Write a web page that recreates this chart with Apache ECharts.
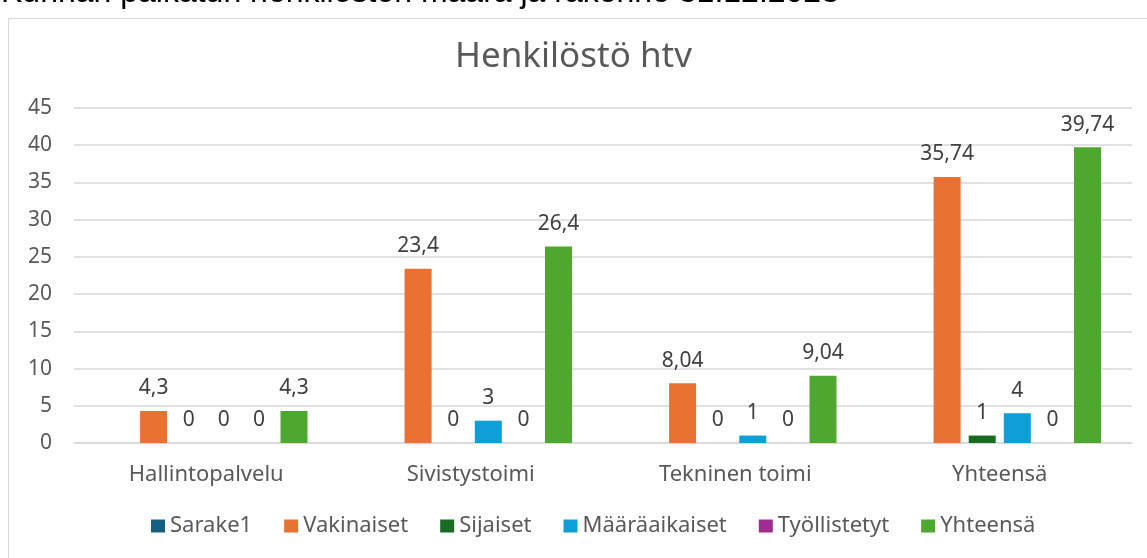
<!DOCTYPE html>
<html>
<head>
<meta charset="utf-8">
<script src="https://cdn.jsdelivr.net/npm/echarts@6/dist/echarts.min.js"></script>
<style>
  html, body { margin: 0; padding: 0; background: #fff; }
  #chart { width: 1147px; height: 558px; }
</style>
</head>
<body>
<div id="chart"></div>
<script>
const categories = ['Hallintopalvelu', 'Sivistystoimi', 'Tekninen toimi', 'Yhteensä'];
const seriesNames = ['Sarake1', 'Vakinaiset', 'Sijaiset', 'Määräaikaiset', 'Työllistetyt', 'Yhteensä'];
const seriesColors = ['#156082', '#E97132', '#196B24', '#0F9ED5', '#A02B93', '#4EA72E'];
const sarake1 = [null, null, null, null];
const vakinaiset = [4.3, 23.4, 8.04, 35.74];
const sijaiset = [0, 0, 0, 1];
const maaraaikaiset = [0, 3, 1, 4];
const tyollistetyt = [0, 0, 0, 0];
const yhteensa = [4.3, 26.4, 9.04, 39.74];
const yTicks = { min: 0, max: 45, interval: 5 };

const seriesData = [sarake1, vakinaiset, sijaiset, maaraaikaiset, tyollistetyt, yhteensa];

const chart = echarts.init(document.getElementById('chart'));

const option = {
    backgroundColor: '#fff',
    animation: false,
    textStyle: { fontFamily: 'Noto Sans' },
    title: {
        text: 'Henkilöstö htv',
        left: 'center',
        top: 35,
        textStyle: { fontSize: 35, fontWeight: 'normal', color: '#595959', fontFamily: 'Noto Sans' }
    },
    graphic: [
        {
            type: 'rect',
            shape: { x: 8.5, y: 18.5, width: 1160, height: 560 },
            style: { fill: 'none', stroke: '#d9d9d9', lineWidth: 1 },
            silent: true
        },
        {
            type: 'text',
            left: 1,
            top: -23,
            style: {
                text: 'Kunnan palkatun henkilöstön määrä ja rakenne 31.12.2023',
                font: '32px "Liberation Sans"',
                fill: '#000'
            },
            silent: true
        }
    ],
    legend: {
        bottom: 16,
        left: 146,
        itemWidth: 14,
        itemHeight: 13,
        itemGap: 32,
        icon: 'rect',
        textStyle: { fontSize: 22, color: '#595959' },
        data: seriesNames
    },
    grid: { left: 74, right: 15, top: 108, bottom: 115 },
    xAxis: {
        type: 'category',
        data: categories,
        axisLine: { lineStyle: { color: '#d9d9d9', width: 1.5 } },
        axisTick: { show: false },
        axisLabel: { fontSize: 22, color: '#595959', margin: 21 }
    },
    yAxis: {
        type: 'value',
        min: yTicks.min,
        max: yTicks.max,
        interval: yTicks.interval,
        axisLine: { show: false },
        axisTick: { show: false },
        axisLabel: { fontSize: 21, color: '#595959', margin: 22 },
        splitLine: { lineStyle: { color: '#d9d9d9', width: 1.5 } }
    },
    series: seriesNames.map((name, i) => ({
        name: name,
        type: 'bar',
        data: seriesData[i],
        barWidth: 27,
        barGap: '30%',
        itemStyle: { color: seriesColors[i] },
        label: {
            show: true,
            position: 'top',
            distance: 12,
            fontSize: 21,
            color: '#404040',
            formatter: p => (p.value == null ? '' : String(p.value).replace('.', ','))
        }
    }))
};
chart.setOption(option);
</script>
</body>
</html>
